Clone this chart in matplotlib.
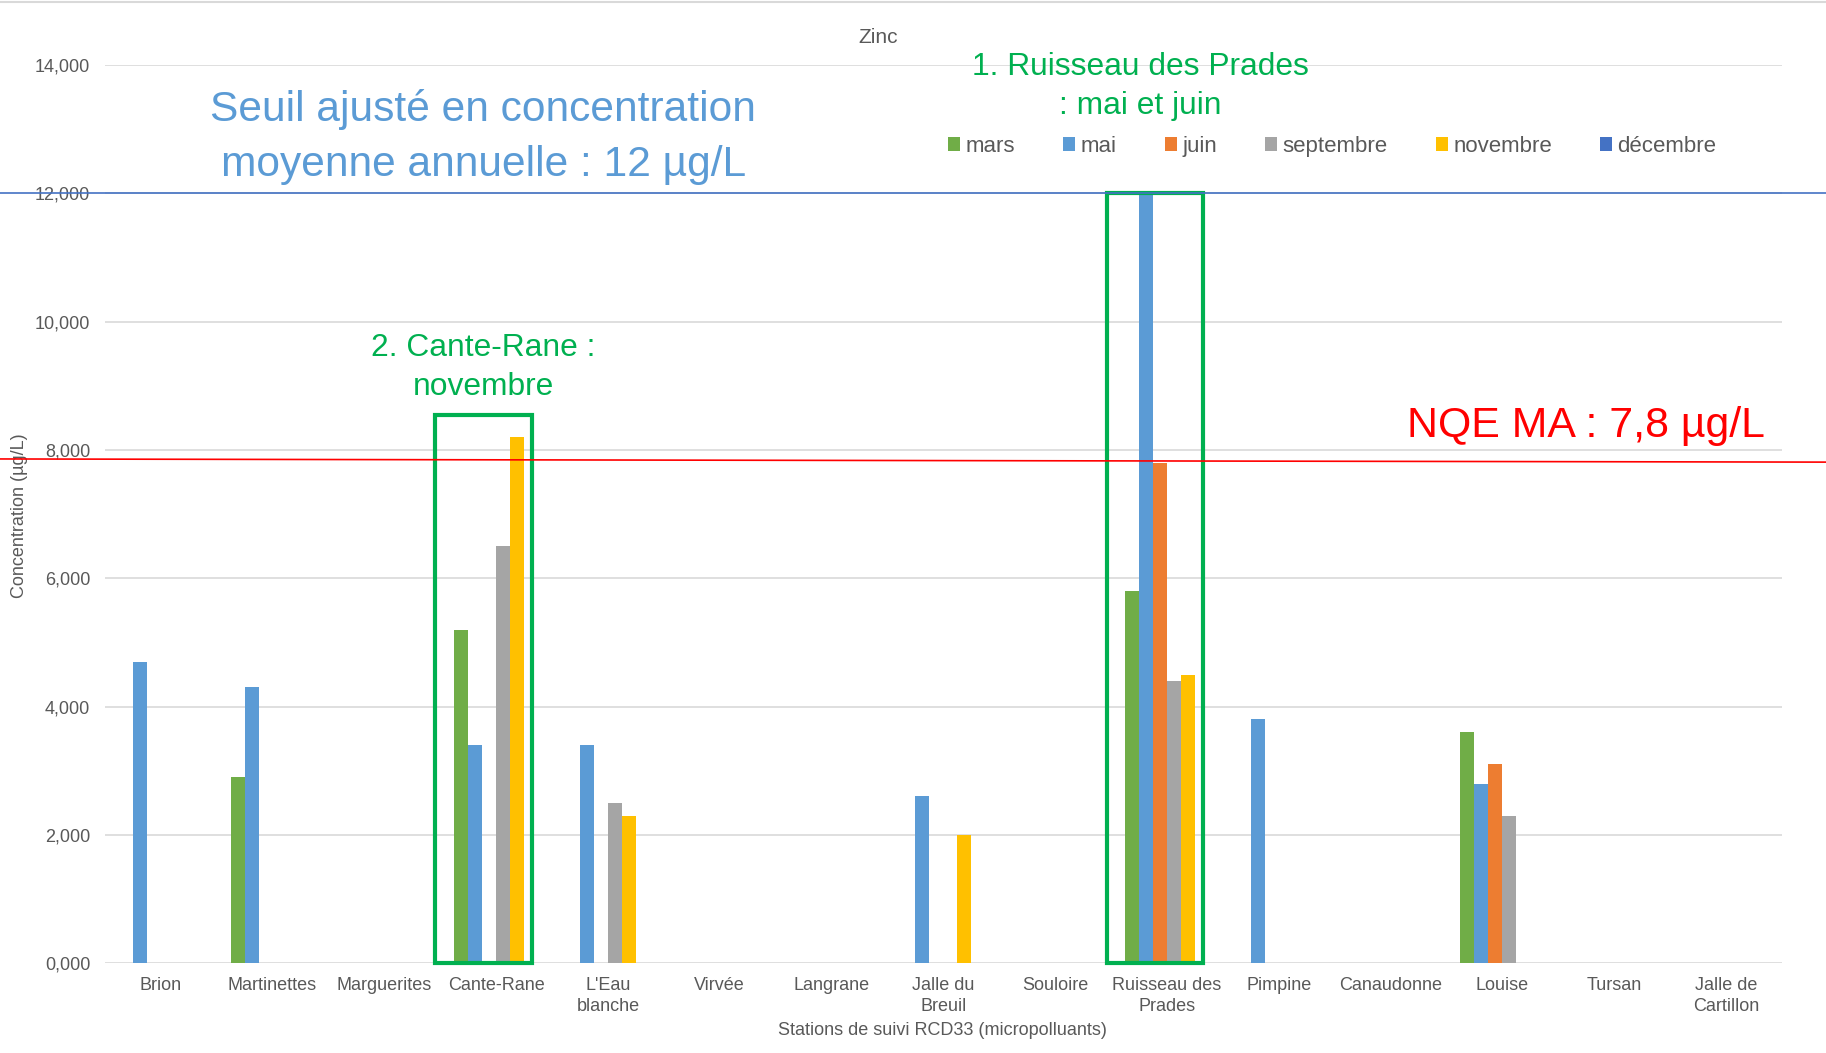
import numpy as np
import matplotlib

matplotlib.use("Agg")
import matplotlib.pyplot as plt
from matplotlib.lines import Line2D
from matplotlib.patches import Rectangle, Patch
from matplotlib.ticker import FuncFormatter

plt.rcParams["font.family"] = ["Liberation Sans", "DejaVu Sans"]

# ── Data (µg/L)
stations = ["Brion", "Martinettes", "Marguerites", "Cante-Rane", "L'Eau\nblanche",
            "Virvée", "Langrane", "Jalle du\nBreuil", "Souloire", "Ruisseau des\nPrades",
            "Pimpine", "Canaudonne", "Louise", "Tursan", "Jalle de\nCartillon"]
months = ["mars", "mai", "juin", "septembre", "novembre", "décembre"]
colors = ["#70AD47", "#5B9BD5", "#ED7D31", "#A5A5A5", "#FFC000", "#4472C4"]

nan = np.nan
mars = [nan, 2.9, nan, 5.2, nan, nan, nan, nan, nan, 5.8, nan, nan, 3.6, nan, nan]
mai = [4.7, 4.3, nan, 3.4, 3.4, nan, nan, 2.6, nan, 12.0, 3.8, nan, 2.8, nan, nan]
juin = [nan, nan, nan, nan, nan, nan, nan, nan, nan, 7.8, nan, nan, 3.1, nan, nan]
septembre = [nan, nan, nan, 6.5, 2.5, nan, nan, nan, nan, 4.4, nan, nan, 2.3, nan, nan]
novembre = [nan, nan, nan, 8.2, 2.3, nan, nan, 2.0, nan, 4.5, nan, nan, nan, nan, nan]
decembre = [nan] * 15
series = [mars, mai, juin, septembre, novembre, decembre]

seuil_ma = 12.0
nqe_ma = 7.8

TXT = "#595959"
GREEN = "#00B050"

fig = plt.figure(figsize=(18.26, 10.53), dpi=100)
ax = fig.add_axes([0.0574, 0.0852, 0.9184, 0.853])

x = np.arange(len(stations))
w = 0.125
for i, (vals, col, lab) in enumerate(zip(series, colors, months)):
    ax.bar(x + (i - 2.5) * w, np.array(vals, dtype=float), width=w, color=col,
           label=lab, zorder=3)

ax.set_xlim(-0.5, len(stations) - 0.5)
ax.set_ylim(0, 14)
ax.set_yticks(np.arange(0, 15, 2))
ax.yaxis.set_major_formatter(FuncFormatter(lambda v, p: f"{v:.3f}".replace(".", ",")))
ax.set_xticks(x)
ax.set_xticklabels(stations, fontsize=13, color=TXT, linespacing=1.3)
ax.tick_params(axis="y", labelsize=13, labelcolor=TXT, length=0, pad=10.5)
ax.tick_params(axis="x", length=0, pad=10)
ax.grid(axis="y", color="#D9D9D9", linewidth=1.2, zorder=0)
for s in ax.spines.values():
    s.set_visible(False)

# threshold lines run across the whole figure
y_blue = ax.transData.transform((0, seuil_ma))[1] / fig.bbox.height
fig.add_artist(Line2D([0, 1], [y_blue, y_blue], color="#4472C4", linewidth=1.2,
                      transform=fig.transFigure, zorder=5))
y_red = ax.transData.transform((0, nqe_ma))[1] / fig.bbox.height
fig.add_artist(Line2D([0, 1], [y_red + 0.0037, y_red + 0.0007],
                      color="red", linewidth=1.2, transform=fig.transFigure, zorder=5))

# highlight boxes
ax.add_patch(Rectangle((3 - 0.55, 0), 0.87, 8.55, fill=False, edgecolor=GREEN,
                       linewidth=3, zorder=4, clip_on=False))
ax.add_patch(Rectangle((9 - 0.54, 0), 0.86, 12.0, fill=False, edgecolor=GREEN,
                       linewidth=3, zorder=4, clip_on=False))

# annotations
fig.text(0.2647, 0.870, "Seuil ajusté en concentration\nmoyenne annuelle : 12 µg/L",
         ha="center", va="center", fontsize=30.6, color="#5B9BD5", linespacing=1.47)
fig.text(0.6244, 0.918, "1. Ruisseau des Prades\n: mai et juin", ha="center", va="center",
         fontsize=22.9, color=GREEN, linespacing=1.37)
fig.text(0.2647, 0.651, "2. Cante-Rane :\nnovembre", ha="center", va="center",
         fontsize=22.9, color=GREEN, linespacing=1.37)
fig.text(0.8686, 0.595, "NQE MA : 7,8 µg/L", ha="center", va="center",
         fontsize=30.9, color="red")

fig.text(0.481, 0.964, "Zinc", ha="center", va="center", fontsize=15, color=TXT)
fig.text(0.516, 0.021, "Stations de suivi RCD33 (micropolluants)", ha="center", va="center",
         fontsize=13, color=TXT)
fig.text(0.0108, 0.51, "Concentration (µg/L)", ha="center", va="center", rotation=90,
         fontsize=13, color=TXT)

handles = [Patch(facecolor=c, label=m) for c, m in zip(colors, months)]
leg = fig.legend(handles=handles, loc="center", bbox_to_anchor=(0.7296, 0.861), ncol=6,
                 frameon=False, fontsize=16, handlelength=0.55, handleheight=0.55,
                 handletextpad=0.25, columnspacing=2.15)
for t in leg.get_texts():
    t.set_color(TXT)

fig.add_artist(Line2D([0, 1], [0.998, 0.998], color="#D9D9D9", linewidth=1.5,
                      transform=fig.transFigure))

fig.savefig("out.png", dpi=100)
